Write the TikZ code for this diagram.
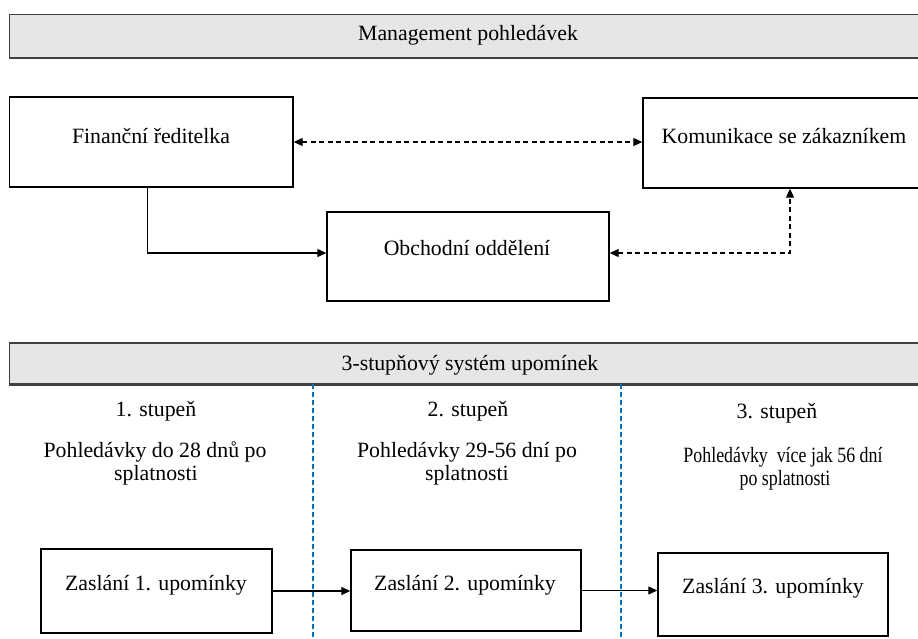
\documentclass[tikz,border=0pt]{standalone}
\usepackage{fontspec}
\setmainfont{Liberation Serif}
\newfontfamily\narrowserif[FakeStretch=0.82]{Liberation Serif}
\usetikzlibrary{arrows.meta}
\definecolor{bannerfill}{HTML}{E6E6E6}
\definecolor{bannerline}{HTML}{404040}
\definecolor{divblue}{HTML}{0070C0}
\begin{document}
\begin{tikzpicture}[x=1pt,y=-1pt,
  font=\fontsize{21.8}{24}\selectfont,
  boxframe/.style={draw=black, line width=1.4pt, fill=white, inner sep=0pt},
  banner/.style={draw=bannerline, line width=1.4pt, fill=bannerfill, inner sep=0pt},
  lbl/.style={anchor=base, inner sep=0pt},
  conn/.style={line width=1.2pt, -{Triangle[length=9pt,width=8pt]}},
  dconn/.style={line width=1.2pt, {Triangle[length=9pt,width=8pt]}-{Triangle[length=9pt,width=8pt]}, dash pattern=on 5pt off 3.5pt},
  divider/.style={draw=divblue, line width=2.2pt, dash pattern=on 5pt off 3pt}
]
\useasboundingbox (0,0) rectangle (918,638);
\clip (0,0) rectangle (918,638);

% banners
\node[banner, minimum width=920.5pt, minimum height=43pt] (b1) at (469.75,35.8) {};
\draw[draw=bannerline, line width=2.4pt] (b1.south west) -- (b1.south east);
\node[lbl] (b1t) at (468,40.7) {Management pohledávek};
\node[banner, minimum width=920.5pt, minimum height=41pt] (b2) at (469.75,363.5) {};
\draw[draw=bannerline, line width=2.4pt] (b2.south west) -- (b2.south east);
\node[lbl] (b2t) at (470,370) {3-stupňový systém upomínek};

% top boxes
\node[boxframe, minimum width=283.5pt, minimum height=90pt] (fin) at (151.25,142) {};
\node[lbl] (fint) at (151,143) {Finanční ředitelka};
\node[boxframe, minimum width=282pt, minimum height=90pt] (kom) at (784,143) {};
\node[lbl] (komt) at (784,143) {Komunikace se zákazníkem};
\node[boxframe, minimum width=282pt, minimum height=89pt] (obch) at (468,256.5) {};
\node[lbl] (obcht) at (467,255) {Obchodní oddělení};

% top connectors
\draw[dconn] (fin.east) -- (fin.east -| kom.west);
\draw[conn] ([xshift=-4pt]fin.south) |- ([yshift=3.5pt]obch.west);
\draw[dconn] ([yshift=3.5pt]obch.east) -| ([xshift=6pt]kom.south);

% dividers
\draw[divider] (313,384) -- (313,640);
\draw[divider] (621,384) -- (621,640);

% column texts
\node[lbl] (c1a) at (156,416) {1. stupeň};
\node[lbl] (c1b) at (155,457) {Pohledávky do 28 dnů po};
\node[lbl] (c1c) at (156,480) {splatnosti};
\node[lbl] (c2a) at (468,416) {2. stupeň};
\node[lbl] (c2b) at (467,457) {Pohledávky 29-56 dní po};
\node[lbl] (c2c) at (467,480) {splatnosti};
\node[lbl] (c3a) at (777,418) {3. stupeň};
\node[lbl, font=\narrowserif\fontsize{21.8}{24}\selectfont] (c3b) at (783,462) {Pohledávky\ \ více jak 56 dní};
\node[lbl, font=\narrowserif\fontsize{21.8}{24}\selectfont] (c3c) at (785,485) {po splatnosti};

% bottom boxes
\node[boxframe, minimum width=231pt, minimum height=84pt] (z1) at (156.5,591) {};
\node[lbl] (z1t) at (156,590) {Zaslání 1. upomínky};
\node[boxframe, minimum width=230pt, minimum height=81pt] (z2) at (466,590.5) {};
\node[lbl] (z2t) at (465,590) {Zaslání 2. upomínky};
\node[boxframe, minimum width=230pt, minimum height=83pt] (z3) at (773,594.5) {};
\node[lbl] (z3t) at (773,593) {Zaslání 3. upomínky};

\draw[conn] (z1.east) -- (z1.east -| z2.west);
\draw[conn] (z2.east) -- (z2.east -| z3.west);
\end{tikzpicture}
\end{document}
